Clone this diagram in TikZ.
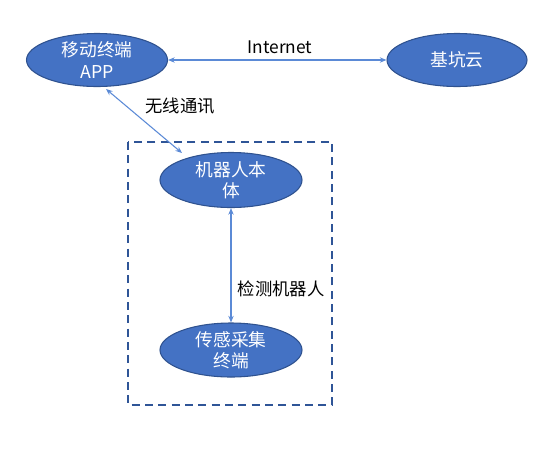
\documentclass[tikz,border=0pt]{standalone}
\usepackage{fontspec}
\setmainfont{Noto Sans CJK SC}
\usetikzlibrary{arrows.meta,shapes.geometric}
\definecolor{fillblue}{HTML}{4472C4}
\definecolor{edgeblue}{HTML}{2F528F}
\definecolor{linkblue}{HTML}{5B8AD6}
\definecolor{boxblue}{HTML}{2F5597}
\tikzset{
  blob/.style={ellipse, fill=fillblue, draw=edgeblue, line width=0.8pt, text=white,
    font=\fontsize{13.3}{16}\selectfont, align=center, inner sep=0pt},
  link/.style={draw=linkblue, line width=0.8pt, {Stealth[length=5pt,width=4pt]}-{Stealth[length=5pt,width=4pt]}},
  lbl/.style={font=\fontsize{13}{15}\selectfont, text=black},
  frame/.style={draw=boxblue, line width=1.5pt, dash pattern=on 6pt off 4pt}
}
\begin{document}
\begin{tikzpicture}[x=0.75pt,y=-0.75pt]
\useasboundingbox (0,0) rectangle (538,454);
\node[blob, minimum width=141*0.75pt, minimum height=53*0.75pt] (app) at (97,60) {移动终端\\APP};
\node[blob, minimum width=140*0.75pt, minimum height=53*0.75pt] (cloud) at (457,60) {基坑云};
\node[blob, minimum width=142*0.75pt, minimum height=55*0.75pt] (robot) at (231,180) {机器人本\\体};
\node[blob, minimum width=142*0.75pt, minimum height=54*0.75pt] (sensor) at (231,350) {传感采集\\终端};
\draw[frame] (128,142) rectangle (332,405);
\coordinate (wa) at (106,89);
\coordinate (wb) at (182,153);
\draw[link] (app.east) -- (cloud.west);
\draw[link] (wa) -- (wb);
\draw[link] (robot.south) -- (sensor.north);
\node[lbl] (t1) at (280,47) {Internet};
\node[lbl] (t2) at (180,106) {无线通讯};
\node[lbl] (t3) at (281,289) {检测机器人};
\end{tikzpicture}
\end{document}
